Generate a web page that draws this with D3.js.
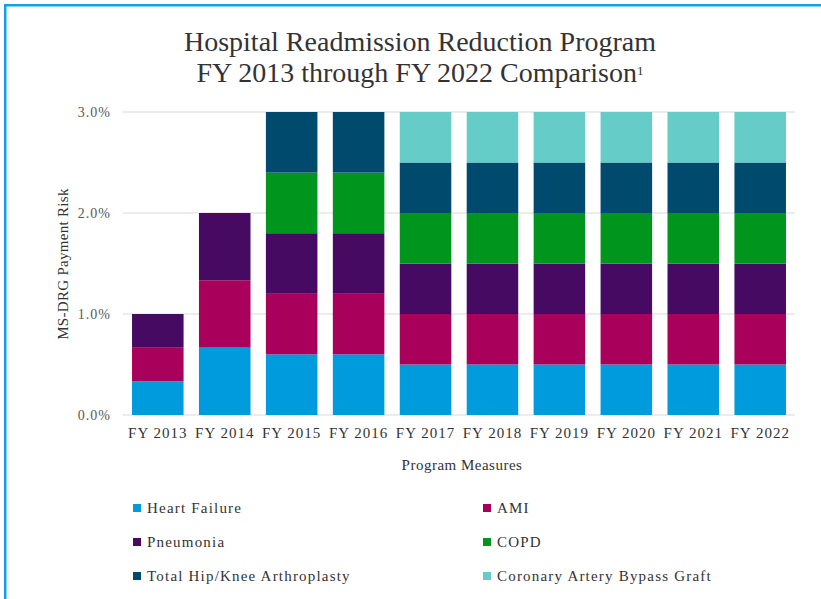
<!DOCTYPE html>
<html>
<head>
<meta charset="utf-8">
<script src="https://cdn.jsdelivr.net/npm/d3@7"></script>
<style>
  body { margin: 0; background: #fff; }
  svg { display: block; font-family: "Liberation Serif", "DejaVu Serif", serif; }
</style>
</head>
<body>
<svg id="chart" width="821" height="599"></svg>
<script>
// Data
const years = ['FY 2013', 'FY 2014', 'FY 2015', 'FY 2016', 'FY 2017', 'FY 2018', 'FY 2019', 'FY 2020', 'FY 2021', 'FY 2022'];
const measures = ['Heart Failure', 'AMI', 'Pneumonia', 'COPD', 'Total Hip/Knee Arthroplasty', 'Coronary Artery Bypass Graft'];
const heartFailure = [0.333, 0.667, 0.6, 0.6, 0.5, 0.5, 0.5, 0.5, 0.5, 0.5];
const ami          = [0.333, 0.667, 0.6, 0.6, 0.5, 0.5, 0.5, 0.5, 0.5, 0.5];
const pneumonia    = [0.334, 0.666, 0.6, 0.6, 0.5, 0.5, 0.5, 0.5, 0.5, 0.5];
const copd         = [0, 0, 0.6, 0.6, 0.5, 0.5, 0.5, 0.5, 0.5, 0.5];
const hipKnee      = [0, 0, 0.6, 0.6, 0.5, 0.5, 0.5, 0.5, 0.5, 0.5];
const cabg         = [0, 0, 0, 0, 0.5, 0.5, 0.5, 0.5, 0.5, 0.5];
const yTicks = [0, 1, 2, 3];

// Colors
const colors = ['#009bdd', '#a8005b', '#470a63', '#00961e', '#004a6d', '#66ccc8'];

const seriesValues = [heartFailure, ami, pneumonia, copd, hipKnee, cabg];
const table = years.map((y, i) => {
    const row = {year: y};
    measures.forEach((m, j) => row[m] = seriesValues[j][i]);
    return row;
});

const svg = d3.select('#chart');

// blue frame (top and left)
svg.append('rect').attr('x', 4).attr('y', 4).attr('width', 817).attr('height', 2.5).attr('fill', '#0fa3e0');
svg.append('rect').attr('x', 4).attr('y', 4).attr('width', 2.5).attr('height', 595).attr('fill', '#0fa3e0');

// Scales
const x = d3.scaleBand()
    .domain(years)
    .range([124, 794])
    .paddingInner(0.23)
    .paddingOuter(0.12);

const y = d3.scaleLinear()
    .domain([0, 3])
    .range([415, 112]);

// Title
const title = svg.append('text')
    .attr('text-anchor', 'middle')
    .attr('fill', '#333')
    .style('font-size', '28px');
title.append('tspan').attr('x', 420).attr('y', 51).text('Hospital Readmission Reduction Program');
const t2 = title.append('tspan').attr('x', 420).attr('y', 82).text('FY 2013 through FY 2022 Comparison');
t2.append('tspan').attr('baseline-shift', 'super').style('font-size', '13px').text('1');

// Gridlines
svg.append('g')
    .selectAll('line')
    .data(yTicks)
    .enter()
    .append('line')
    .attr('x1', 123).attr('x2', 795)
    .attr('y1', d => y(d)).attr('y2', d => y(d))
    .attr('stroke', '#d9d9d9')
    .attr('stroke-width', 1);

// Y axis labels
const yAxis = svg.append('g')
    .attr('transform', 'translate(111,0)')
    .call(d3.axisLeft(y).tickValues(yTicks).tickFormat(d => d3.format('.1f')(d) + '%').tickSize(0).tickPadding(0));
yAxis.select('.domain').remove();
yAxis.selectAll('text')
    .attr('fill', '#595959')
    .style('font-family', '"Liberation Serif", serif')
    .style('font-size', '14px')
    .style('letter-spacing', '1px');

// Stacked bars
const stack = d3.stack().keys(measures);
svg.append('g')
    .selectAll('g')
    .data(stack(table))
    .enter()
    .append('g')
    .attr('fill', (d, i) => colors[i])
    .selectAll('rect')
    .data(d => d)
    .enter()
    .append('rect')
    .attr('x', d => x(d.data.year))
    .attr('width', x.bandwidth())
    .attr('y', d => y(d[1]))
    .attr('height', d => y(d[0]) - y(d[1]));

// X axis labels
const xAxis = svg.append('g')
    .attr('transform', 'translate(0,427)')
    .call(d3.axisBottom(x).tickSize(0).tickPadding(0));
xAxis.select('.domain').remove();
xAxis.selectAll('text')
    .attr('fill', '#333')
    .style('font-family', '"Liberation Serif", serif')
    .style('font-size', '15px')
    .style('letter-spacing', '1px');

// Axis titles
svg.append('text')
    .attr('x', 462).attr('y', 470)
    .attr('text-anchor', 'middle')
    .attr('fill', '#333')
    .style('font-size', '15px')
    .style('letter-spacing', '0.5px')
    .text('Program Measures');

svg.append('text')
    .attr('transform', 'translate(68,264) rotate(-90)')
    .attr('text-anchor', 'middle')
    .attr('fill', '#333')
    .style('font-size', '15px')
    .style('letter-spacing', '0.3px')
    .text('MS-DRG Payment Risk');

// Legend
const legend = svg.append('g')
    .selectAll('g')
    .data(measures)
    .enter()
    .append('g')
    .attr('transform', (d, i) => `translate(${i % 2 === 0 ? 133 : 483},${508 + Math.floor(i / 2) * 34})`);

legend.append('rect')
    .attr('x', 0).attr('y', -4)
    .attr('width', 8).attr('height', 8)
    .attr('fill', (d, i) => colors[i]);

legend.append('text')
    .attr('x', 14).attr('y', 5)
    .attr('fill', '#333')
    .style('font-size', '15px')
    .style('letter-spacing', '1.2px')
    .text(d => d);
</script>
</body>
</html>
